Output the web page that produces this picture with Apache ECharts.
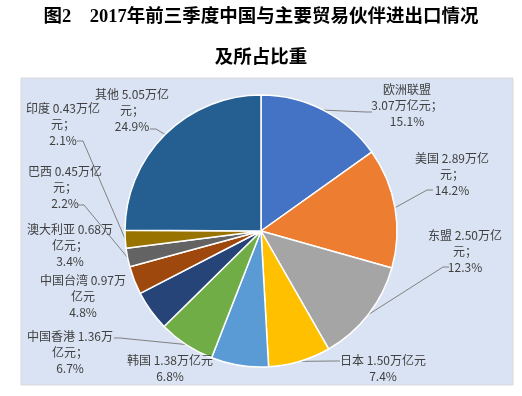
<!DOCTYPE html>
<html>
<head>
<meta charset="utf-8">
<script src="https://cdn.jsdelivr.net/npm/echarts@6/dist/echarts.min.js"></script>
<style>
  html, body { margin: 0; padding: 0; background: #fff; }
  #container { width: 522px; height: 396px; }
</style>
</head>
<body>
<div id="container"></div>
<script>
// 贸易伙伴, 进出口额(万亿元), 占比(%)
var partners = ['欧洲联盟', '美国', '东盟', '日本', '韩国', '中国香港', '中国台湾', '澳大利亚', '巴西', '印度', '其他'];
var amounts = [3.07, 2.89, 2.50, 1.50, 1.38, 1.36, 0.97, 0.68, 0.45, 0.43, 5.05];
var shares = [15.1, 14.2, 12.3, 7.4, 6.8, 6.7, 4.8, 3.4, 2.2, 2.1, 24.9];
// label wrapping as in the original figure
var labelTpl = [
    '{n}\n{v}万亿元；\n{p}%',
    '{n} {v}万亿\n元；\n{p}%',
    '{n} {v}万亿\n元；\n{p}%',
    '{n} {v}万亿元\n{p}%',
    '{n} {v}万亿元\n{p}%',
    '{n} {v}万\n亿元；\n{p}%',
    '{n} {v}万\n亿元\n{p}%',
    '{n} {v}万\n亿元；\n{p}%',
    '{n} {v}万亿\n元；\n{p}%',
    '{n} {v}万亿\n元；\n{p}%',
    '{n} {v}万亿\n元；\n{p}%'
];
var colors = ['#4472c4', '#ed7d31', '#a5a5a5', '#ffc000', '#5b9bd5', '#70ad47',
              '#264478', '#9e480e', '#636363', '#997300', '#255e91'];

// where each label block sits (centre of the text) and where its leader line meets it
var labelPos = [[407, 105], [452, 174], [465, 251], [383, 368], [170, 368], [70, 352],
                [83, 296], [70, 245], [65, 187], [63, 124], [132, 110]];
var lineEnd = [[372, 112], [433, 190], [449, 267], [340, 361], null, [114, 338],
               null, null, [78, 205], [77, 141], [150, 129]];

var dom = document.getElementById('container');
var myChart = echarts.init(dom);

var pieData = partners.map(function (name, i) {
    return {
        name: name,
        value: amounts[i],
        itemStyle: { color: colors[i] },
        labelLine: { show: lineEnd[i] != null }
    };
});

var cx = 261, cy = 231;

var option = {
    animation: false,
    title: {
        text: '图2　2017年前三季度中国与主要贸易伙伴进出口情况\n及所占比重',
        left: 'center',
        top: -8,
        padding: [5, 5, 5, 17],
        textStyle: {
            fontFamily: '"Liberation Serif", "Noto Sans CJK SC"',
            fontSize: 18.5,
            fontWeight: 'bold',
            color: '#000',
            lineHeight: 41
        }
    },
    graphic: [{
        type: 'rect',
        z: -10,
        silent: true,
        shape: { x: 21, y: 78, width: 492, height: 307 },
        style: { fill: '#dae3f3', stroke: '#d9d9d9', lineWidth: 1 }
    }],
    series: [{
        type: 'pie',
        center: [cx, cy],
        radius: 136,
        startAngle: 90,
        clockwise: true,
        avoidLabelOverlap: false,
        data: pieData,
        itemStyle: { borderColor: '#fff', borderWidth: 1.5 },
        label: {
            show: true,
            position: 'outside',
            fontFamily: '"Noto Sans CJK SC"',
            fontSize: 12,
            lineHeight: 16,
            color: '#404040',
            align: 'center',
            formatter: function (p) {
                var i = p.dataIndex;
                return labelTpl[i]
                    .replace('{n}', partners[i])
                    .replace('{v}', amounts[i].toFixed(2))
                    .replace('{p}', shares[i].toFixed(1));
            }
        },
        labelLine: {
            length: 10,
            length2: 10,
            lineStyle: { color: '#808080', width: 1 }
        },
        labelLayout: function (params) {
            var i = params.dataIndex;
            var pos = labelPos[i];
            var res = {
                x: pos[0],
                y: pos[1],
                align: 'center',
                verticalAlign: 'middle',
                hideOverlap: false
            };
            var end = lineEnd[i];
            if (end && params.labelLinePoints) {
                // start where the pie puts it: slice mid-angle on the rim
                var start = params.labelLinePoints[0];
                var dir = end[0] > cx ? -6 : 6;
                res.labelLinePoints = [start, [end[0] + dir, end[1]], end];
            }
            return res;
        }
    }]
};

myChart.setOption(option);
</script>
</body>
</html>
